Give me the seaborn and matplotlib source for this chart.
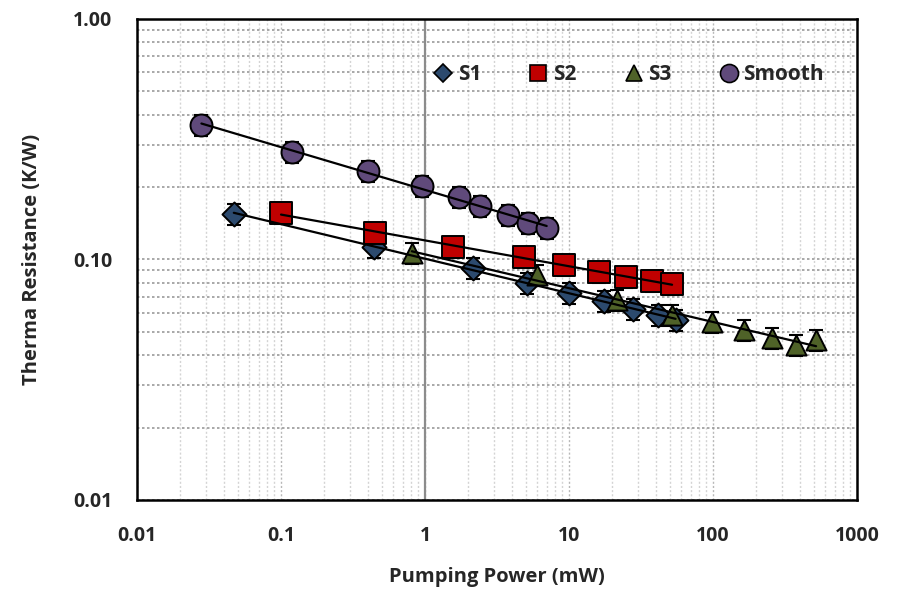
"""
Thermal resistance vs pumping power, log-log with power-law trend lines
"""

import numpy as np
import pandas as pd
import matplotlib
matplotlib.use('Agg')
import matplotlib.pyplot as plt
import matplotlib.ticker as mticker
import seaborn as sns

# Data
s1_power = [0.047, 0.44, 2.15, 5.1, 10.0, 17.5, 27.8, 41.5, 55.0]
s1_res = [0.155, 0.113, 0.092, 0.080, 0.0726, 0.0672, 0.0622, 0.0588, 0.056]

s2_power = [0.10, 0.45, 1.56, 4.9, 9.2, 16.1, 24.9, 37.7, 52.0]
s2_res = [0.156, 0.129, 0.113, 0.102, 0.0949, 0.0887, 0.0846, 0.0814, 0.0791]

s3_power = [0.81, 6.0, 21.5, 52.0, 98.0, 165.0, 255.0, 375.0, 520.0]
s3_res = [0.106, 0.0862, 0.0679, 0.0588, 0.055, 0.0509, 0.0472, 0.0441, 0.0463]

smooth_power = [0.028, 0.12, 0.40, 0.96, 1.72, 2.4, 3.77, 5.2, 7.0]
smooth_res = [0.362, 0.280, 0.233, 0.202, 0.182, 0.167, 0.153, 0.142, 0.135]

series_names = ['S1', 'S2', 'S3', 'Smooth']
x_ticks = [0.01, 0.1, 1, 10, 100, 1000]
x_tick_labels = ['0.01', '0.1', '1', '10', '100', '1000']
y_ticks = [0.01, 0.1, 1.0]
y_tick_labels = ['0.01', '0.10', '1.00']

frames = []
for name, xs, ys in zip(series_names,
                        [s1_power, s2_power, s3_power, smooth_power],
                        [s1_res, s2_res, s3_res, smooth_res]):
    frames.append(pd.DataFrame({'power': xs, 'res': ys, 'series': name}))
df = pd.concat(frames, ignore_index=True)

colors = {'S1': '#2C4A6E', 'S2': '#C00000', 'S3': '#4F6228', 'Smooth': '#604A7B'}
markers = {'S1': 'D', 'S2': 's', 'S3': '^', 'Smooth': 'o'}
sizes = {'S1': 150, 'S2': 250, 'S3': 210, 'Smooth': 250}

sns.set_style('white')
plt.rcParams['font.family'] = ['Open Sans', 'DejaVu Sans']

fig = plt.figure(figsize=(8.98, 5.91), dpi=100)
ax = fig.add_axes([0.1526, 0.154, 0.8017, 0.8139])
ax.set_xscale('log')
ax.set_yscale('log')
ax.set_xlim(0.01, 1000)
ax.set_ylim(0.01, 1.0)

# Gridlines
ax.grid(True, which='major', axis='x', color='#b8b8b8', linestyle=(0, (1.5, 1.5)), lw=1.0)
ax.grid(True, which='minor', axis='x', color='#d4d4d4', linestyle=(0, (1.5, 1.5)), lw=1.0)
ax.grid(True, which='both', axis='y', color='#9a9a9a', linestyle=(0, (1.5, 1.5)), lw=1.2)
ax.axvline(1, color='#8c8c8c', lw=1.6, zorder=1)

for name in series_names:
    sub = df[df['series'] == name]
    # error bars (~10 %)
    ax.errorbar(sub['power'], sub['res'], yerr=0.1 * sub['res'], fmt='none',
                ecolor='black', elinewidth=1.2, capsize=5, capthick=1.5, zorder=3)

for name in series_names:
    sub = df[df['series'] == name]
    sns.scatterplot(data=sub, x='power', y='res', marker=markers[name], s=sizes[name],
                    color=colors[name], edgecolor='black', linewidth=1.4,
                    ax=ax, zorder=4, label=name, legend=False)

# power-law trend lines from first to last point
for name in series_names:
    sub = df[df['series'] == name]
    lx, ly = np.log10(sub['power']), np.log10(sub['res'])
    k, b = np.polyfit(lx, ly, 1)
    xs = np.array([sub['power'].min(), sub['power'].max()])
    ax.plot(xs, 10 ** (k * np.log10(xs) + b), color='black', lw=1.6, zorder=5)

ax.set_xticks(x_ticks)
ax.set_xticklabels(x_tick_labels)
ax.set_yticks(y_ticks)
ax.set_yticklabels(y_tick_labels)
ax.xaxis.set_minor_formatter(mticker.NullFormatter())
ax.yaxis.set_minor_formatter(mticker.NullFormatter())
ax.tick_params(axis='both', which='major', labelsize=14, length=0)
ax.tick_params(axis='x', which='major', pad=19)
ax.tick_params(axis='y', which='major', pad=18)
ax.tick_params(axis='both', which='minor', length=0)
for lab in ax.get_xticklabels() + ax.get_yticklabels():
    lab.set_fontweight('bold')

for sp in ax.spines.values():
    sp.set_color('black')
    sp.set_linewidth(1.8)

ax.set_xlabel('Pumping Power (mW)', fontsize=14.5, fontweight='bold', labelpad=15)
ax.set_ylabel('Therma Resistance (K/W)', fontsize=14.5, fontweight='bold', labelpad=22)

handles = []
for name in series_names:
    h = plt.Line2D([], [], linestyle='none', marker=markers[name], color=colors[name],
                   markeredgecolor='black', markeredgewidth=1.2,
                   markersize={'S1': 9, 'S2': 12, 'S3': 12, 'Smooth': 13}[name])
    handles.append(h)
leg = ax.legend(handles, series_names, loc='upper left', bbox_to_anchor=(0.37, 0.945),
                ncol=4, frameon=False, handletextpad=-0.3, columnspacing=1.75,
                prop={'weight': 'bold', 'size': 15})

fig.savefig('out.png', dpi=100)
